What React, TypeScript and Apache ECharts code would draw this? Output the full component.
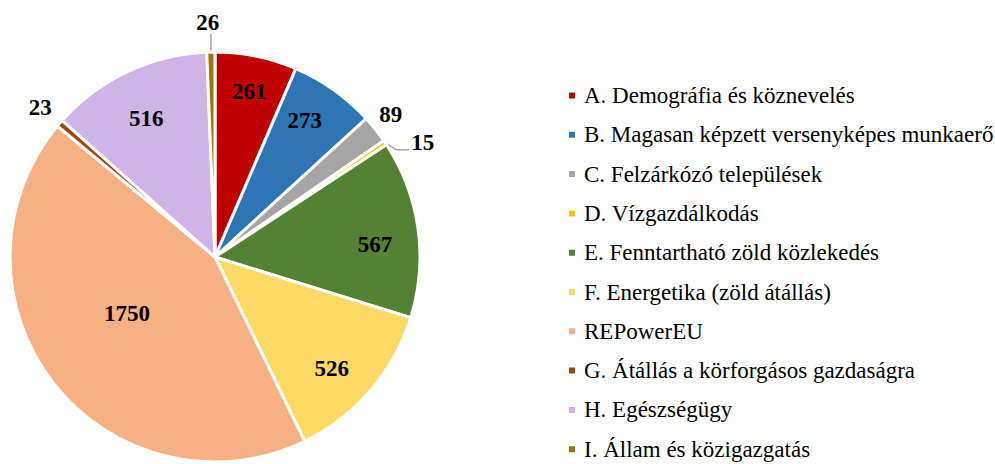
import React, { useEffect, useRef } from "react";
import * as echarts from "echarts";

const categories = [
  "A. Demográfia és köznevelés",
  "B. Magasan képzett versenyképes munkaerő",
  "C. Felzárkózó települések",
  "D. Vízgazdálkodás",
  "E. Fenntartható zöld közlekedés",
  "F. Energetika (zöld átállás)",
  "REPowerEU",
  "G. Átállás a körforgásos gazdaságra",
  "H. Egészségügy",
  "I. Állam és közigazgatás",
];
const values = [261, 273, 89, 15, 567, 526, 1750, 23, 516, 26];
const colors = [
  "#C00000",
  "#2E75B6",
  "#A5A5A5",
  "#FFC000",
  "#548235",
  "#FFD966",
  "#F4B183",
  "#9E480E",
  "#D0B4E6",
  "#9C7506",
];
// label placement kind per slice
const labelKind = ["ring", "ring", "out", "outLine", "ring", "ring", "center", "out", "ring", "outLine"];

const FONT = "'Liberation Serif', 'Times New Roman', serif";

// small nudges of inside labels (style only)
const ringNudge: Record<number, [number, number]> = {
  0: [1, -3],
  1: [-6, -2],
  4: [-4, 11],
  5: [-9, 4],
  8: [2, 11],
};

export default function App() {
  const ref = useRef<HTMLDivElement>(null);
  useEffect(() => {
    if (!ref.current) return;
    const chart = echarts.init(ref.current, undefined, { renderer: "svg" });
    const labelStyle = {
      fontFamily: FONT,
      fontSize: 23,
      fontWeight: "bold" as const,
      color: "#000",
      formatter: "{c}",
    };
    const lineStyleShown = { color: "#A6A6A6", width: 1.5 };
    const mainData = categories.map((name, i) => {
      const kind = labelKind[i];
      const item: any = {
        name,
        value: values[i],
        itemStyle: { color: colors[i] },
      };
      if (kind === "center") {
        item.label = { show: true, position: "inside", ...labelStyle };
        item.labelLine = { show: false };
      } else if (kind === "out") {
        item.label = { show: true, position: "outside", ...labelStyle };
        item.labelLine = {
          show: true,
          length: 4,
          length2: 0,
          lineStyle: { opacity: 0 },
        };
      } else if (kind === "outLine") {
        item.label = { show: true, position: "outside", ...labelStyle };
        item.labelLine = {
          show: true,
          length: 14,
          length2: 12,
          lineStyle: lineStyleShown,
        };
      } else {
        item.label = { show: false };
        item.labelLine = { show: false };
      }
      return item;
    });
    const ringData = categories.map((name, i) => ({
      name,
      value: values[i],
      label: {
        show: labelKind[i] === "ring",
        offset: ringNudge[i] || [0, 0],
      },
    }));
    const mainLabelLayout = (params: any) => {
      const pts = params.labelLinePoints;
      const i = params.dataIndex;
      if (i === 6) return { dx: -5, dy: -9 };
      if (!pts || !pts.length) return {};
      const p0 = pts[0];
      if (i === 3) {
        return {
          x: p0[0] + 26,
          y: p0[1],
          align: "left",
          verticalAlign: "middle",
          labelLinePoints: [
            [p0[0], p0[1]],
            [p0[0] + 11, p0[1] + 7],
            [p0[0] + 24, p0[1] + 7],
          ],
        };
      }
      if (i === 9) {
        return {
          x: p0[0] - 3,
          y: p0[1] - 18,
          align: "center",
          verticalAlign: "bottom",
          labelLinePoints: [
            [p0[0], p0[1]],
            [p0[0], p0[1] - 18],
            [p0[0], p0[1] - 18],
          ],
        };
      }
      if (i === 2) {
        return {
          x: p0[0] + 4,
          y: p0[1] - 15,
          align: "left",
          verticalAlign: "middle",
        };
      }
      if (i === 7) {
        return {
          x: p0[0] - 8,
          y: p0[1] - 16,
          align: "right",
          verticalAlign: "middle",
        };
      }
      return {};
    };
    chart.setOption({
      animation: false,
      legend: {
        orient: "vertical",
        left: 567,
        top: 84,
        height: 400,
        padding: 0,
        itemWidth: 8,
        itemHeight: 8,
        itemGap: 16.3,
        icon: "rect",
        data: categories,
        textStyle: {
          fontFamily: FONT,
          fontSize: 23,
          color: "#000",
          padding: [0, 0, 0, 3],
        },
      },
      series: [
        {
          type: "pie",
          center: [215, 257],
          radius: [0, 205],
          startAngle: 90,
          clockwise: true,
          avoidLabelOverlap: false,
          itemStyle: { borderColor: "#fff", borderWidth: 3 },
          emphasis: { disabled: true },
          labelLayout: mainLabelLayout,
          data: mainData,
        },
        {
          type: "pie",
          center: [215, 257],
          radius: [120, 205],
          startAngle: 90,
          clockwise: true,
          silent: true,
          avoidLabelOverlap: false,
          itemStyle: { color: "transparent", borderWidth: 0 },
          label: { position: "inside", ...labelStyle },
          labelLine: { show: false },
          emphasis: { disabled: true },
          data: ringData,
        },
      ],
    });
    return () => chart.dispose();
  }, []);
  return (
    <div
      ref={ref}
      style={{ position: "absolute", left: 0, top: 0, width: 995, height: 464 }}
    />
  );
}
